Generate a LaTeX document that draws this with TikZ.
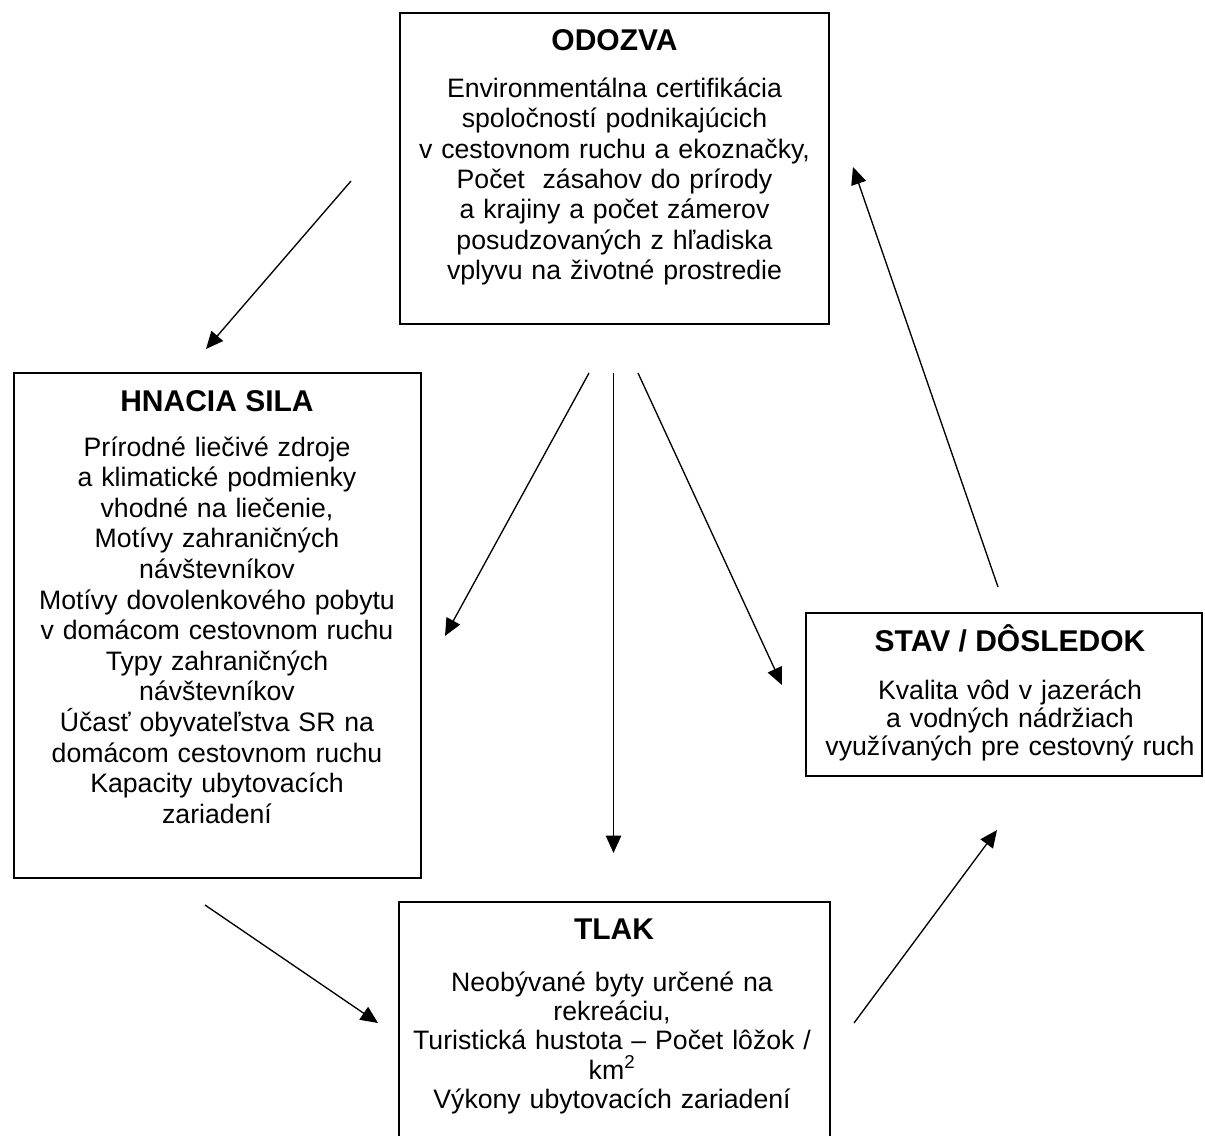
\documentclass[tikz,border=0pt]{standalone}
\usepackage{fontspec}
\setmainfont{Liberation Sans}
\usetikzlibrary{arrows.meta,fit}
\begin{document}
\begin{tikzpicture}[x=0.75pt,y=-0.75pt,
  box/.style={draw, line width=1.3pt, inner sep=0pt},
  ttl/.style={font=\fontsize{22.5}{26}\selectfont\bfseries, anchor=base, inner sep=0pt},
  body/.style={align=center, anchor=base, inner sep=0pt, text width=300pt},
  arr/.style={line width=1pt, -{Triangle[length=13pt,width=11.5pt]}}]
\useasboundingbox (0,0) rectangle (1205,1135);
% boxes
\node[box, fit={(400,13) (829,324)}] (odozva) {};
\node[box, fit={(14,373) (421,878)}] (hnacia) {};
\node[box, fit={(806,613) (1202,776)}] (stav) {};
\node[box, fit={(399,902) (830,1150)}] (tlak) {};
% titles
\node[ttl] (odozvaT) at (614.5,50.7) {ODOZVA};
\node[ttl] (hnaciaT) at (217,411.5) {HNACIA SILA};
\node[ttl] (stavT) at (1010,651.7) {STAV / DÔSLEDOK};
\node[ttl] (tlakT) at (614,939) {TLAK};
% bodies
\node[body, font=\fontsize{20}{22.8}\selectfont] (odozvaB) at (614.5,97.3) {Environmentálna certifikácia\\spoločností podnikajúcich\\v cestovnom ruchu a ekoznačky,\\Počet~ zásahov do prírody\\a krajiny a počet zámerov\\posudzovaných z hľadiska\\vplyvu na životné prostredie};
\node[body, font=\fontsize{20}{22.95}\selectfont] (hnaciaB) at (217,456) {Prírodné liečivé zdroje\\a klimatické podmienky\\vhodné na liečenie,\\Motívy zahraničných\\návštevníkov\\Motívy dovolenkového pobytu\\v domácom cestovnom ruchu\\Typy zahraničných\\návštevníkov\\Účasť obyvateľstva SR na\\domácom cestovnom ruchu\\Kapacity ubytovacích\\zariadení};
\node[body, font=\fontsize{20}{21}\selectfont] (stavB) at (1010,699) {Kvalita vôd v jazerách\\a vodných nádržiach\\využívaných pre cestovný ruch};
\node[body, font=\fontsize{20}{22}\selectfont] (tlakB) at (612,991) {Neobývané byty určené na\\rekreáciu,\\Turistická hustota – Počet lôžok /\\km\textsuperscript{2}\\Výkony ubytovacích zariadení};
% arrow end points
\coordinate (a1s) at (351,181);
\coordinate (a1e) at (206,349);
\coordinate (a2s) at (589,373);
\coordinate (a2e) at (445,636);
\coordinate (a3s) at (613.5,373);
\coordinate (a3e) at (613.5,853);
\coordinate (a4s) at (638,373);
\coordinate (a4e) at (782,685);
\coordinate (a5s) at (998,587);
\coordinate (a5e) at (853,167);
\coordinate (a6s) at (205,905);
\coordinate (a6e) at (378,1023);
\coordinate (a7s) at (854,1023);
\coordinate (a7e) at (997,830);
% arrows
\draw[arr] (a1s) -- (a1e);
\draw[arr] (a2s) -- (a2e);
\draw[arr] (a3s) -- (a3e);
\draw[arr] (a4s) -- (a4e);
\draw[arr] (a5s) -- (a5e);
\draw[arr] (a6s) -- (a6e);
\draw[arr] (a7s) -- (a7e);
\end{tikzpicture}
\end{document}
